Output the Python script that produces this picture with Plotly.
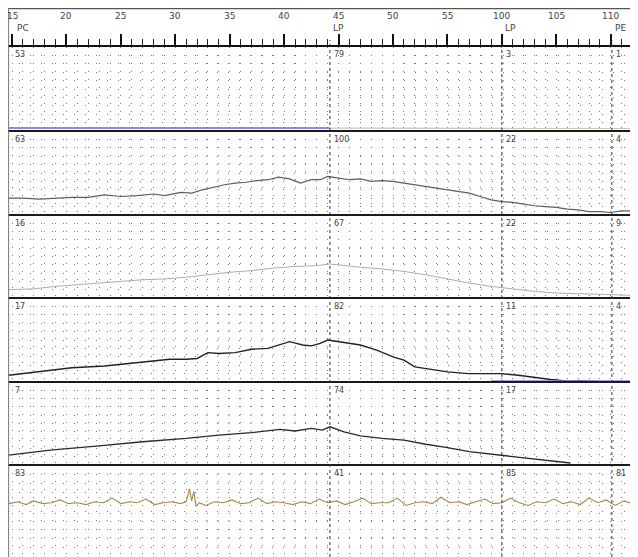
import plotly.graph_objects as go

# ---------------- data ----------------
tick_vals = [15, 20, 25, 30, 35, 40, 45, 50, 55, 60, 65, 70]
tick_text = ["15", "20", "25", "30", "35", "40", "45", "50", "55", "100", "105", "110"]

event_x = [15.2, 44.2, 60.0, 70.1]
event_text = ["PC", "LP", "LP", "PE"]

panel_labels = [
    ["53", "79", "3", "1"],
    ["63", "100", "22", "4"],
    ["16", "67", "22", "9"],
    ["17", "82", "11", "4"],
    ["7", "74", "17", ""],
    ["83", "41", "85", "81"],
]

p1a_x = [14.7, 44.2]
p1a_y = [0.35, 0.35]
p1b_x = [44.2, 72.5]
p1b_y = [0.35, 0.3]

p2_x = [14.7, 16.0, 17.5, 19.0, 20.5, 22.0, 23.5, 25.0, 26.5, 28.0, 29.0, 30.5, 31.5, 32.5,
        33.5, 34.5, 35.5, 36.5, 37.5, 38.5, 39.5, 40.5, 41.5, 42.5, 43.3, 44.0, 45.0, 46.0,
        47.0, 48.0, 49.0, 50.0, 51.0, 52.0, 53.0, 54.0, 55.0, 56.0, 57.0, 58.0, 59.0, 60.0,
        61.0, 62.0, 63.0, 64.0, 65.0, 66.0, 67.0, 68.0, 69.0, 70.0, 71.0, 72.5]
p2_y = [2.0, 2.0, 1.9, 2.0, 2.1, 2.1, 2.4, 2.2, 2.3, 2.5, 2.3, 2.7, 2.6, 3.0,
        3.3, 3.6, 3.8, 3.9, 4.1, 4.2, 4.5, 4.3, 3.8, 4.2, 4.2, 4.6, 4.4, 4.2,
        4.3, 4.0, 4.1, 4.0, 3.8, 3.6, 3.4, 3.2, 3.0, 2.8, 2.6, 2.2, 1.8, 1.6,
        1.5, 1.3, 1.1, 1.0, 0.9, 0.7, 0.6, 0.4, 0.4, 0.3, 0.5, 0.5]

p3_x = [14.7, 17, 19, 21, 23, 25, 27, 29, 31, 33, 35, 37, 39, 41, 43, 44.2, 45.5, 47, 49,
        51, 53, 55, 57, 59, 61, 63, 65, 67, 69, 72.5]
p3_y = [1.0, 1.1, 1.4, 1.6, 1.8, 2.0, 2.2, 2.3, 2.5, 2.8, 3.1, 3.3, 3.6, 3.8, 3.9, 4.1, 3.9,
        3.7, 3.5, 3.2, 2.8, 2.3, 1.8, 1.4, 1.1, 0.8, 0.6, 0.5, 0.4, 0.3]

p4_x = [14.7, 17.5, 20.5, 23.5, 26.5, 28, 29.5, 31, 32, 33, 34, 35.5, 37, 38.5, 39.6, 40.5,
        41.7, 42.5, 43.3, 44.0, 45.5, 47.0, 48.5, 50.0, 51.0, 52.0, 53.5, 55.0, 56.9, 58,
        59.9, 61.5, 63.1, 64.5, 66.1, 67.0, 69, 72.5]
p4_y = [0.8, 1.2, 1.7, 1.9, 2.3, 2.5, 2.7, 2.7, 2.8, 3.5, 3.4, 3.5, 3.9, 4.0, 4.4, 4.8,
        4.4, 4.3, 4.6, 5.0, 4.7, 4.4, 3.8, 3.0, 2.6, 1.8, 1.5, 1.2, 1.0, 1.0,
        1.0, 0.8, 0.5, 0.3, 0.1, 0.15, 0.05, 0.05]
p4b_x = [59.0, 72.5]
p4b_y = [0.12, 0.12]

p5_x = [14.7, 18.5, 23, 27, 31, 34, 37, 39.6, 41, 42.5, 43.5, 44.2, 45.5, 47, 49, 51, 53,
        55, 57, 59, 61, 63, 65, 66.3]
p5_y = [1.2, 1.8, 2.3, 2.8, 3.2, 3.6, 3.9, 4.3, 4.1, 4.4, 4.2, 4.6, 4.0, 3.5, 3.2, 3.0, 2.5,
        2.1, 1.6, 1.3, 1.0, 0.7, 0.45, 0.24]

p6_x = [14.7, 15.5, 16.3, 17.0, 17.8, 18.6, 19.4, 20.2, 21.0, 21.8, 22.6, 23.4, 24.2, 25.0,
        25.8, 26.5, 27.3, 28.1, 28.9, 29.7, 30.5, 31.0, 31.3, 31.5, 31.7, 31.9, 32.2, 32.8,
        33.6, 34.4, 35.2, 36.0, 36.8, 37.6, 38.4, 39.2, 40.0, 40.8, 41.6, 42.4, 43.2, 44.0,
        44.8, 45.6, 46.4, 47.2, 48.0, 48.8, 49.6, 50.4, 51.2, 52.0, 52.8, 53.6, 54.4, 55.2,
        56.0, 56.8, 57.6, 58.4, 59.2, 60.0, 60.8, 61.6, 62.4, 63.2, 64.0, 64.8, 65.6, 66.4,
        67.2, 68.0, 68.8, 69.6, 70.4, 71.2, 72.0, 72.5]
p6_y = [5.8, 6.0, 5.7, 6.1, 5.8, 5.9, 6.2, 5.8, 5.9, 5.7, 6.0, 5.9, 6.4, 5.8,
        6.0, 5.9, 6.3, 5.7, 5.9, 6.0, 5.8, 6.0, 7.4, 6.1, 7.1, 5.5, 5.9, 5.6,
        6.0, 5.9, 6.2, 5.8, 5.9, 6.4, 5.8, 6.0, 5.9, 5.7, 6.0, 5.8, 6.3, 5.9,
        6.1, 5.7, 6.0, 6.4, 5.8, 5.9, 5.9, 6.4, 5.6, 5.9, 6.0, 5.8, 6.5, 5.9,
        6.0, 5.7, 6.0, 6.3, 5.8, 5.9, 6.4, 5.9, 5.6, 6.0, 5.9, 6.3, 5.8, 6.0,
        5.7, 6.4, 5.9, 6.2, 5.6, 6.1, 5.8, 6.0]

# ---------------- layout geometry ----------------
# the page body adds an 8px offset, so the figure is drawn 8px smaller
OFF = 8
W, H = 638 - OFF, 557 - OFF
bounds_ref = [47, 131, 215, 298, 382, 465, 557]

def py(ref_px):
    return 1 - (ref_px - OFF) / H

X_RANGE = [14.63, 72.5]
GRID = "#7a7a7a"
FONT = "DejaVu Sans"

fig = go.Figure()

traces = [
    (1, p1a_x, p1a_y, "#6868c8", 1.6),
    (1, p1b_x, p1b_y, "#c4ccb8", 1.2),
    (2, p2_x, p2_y, "#6a5a52", 1.2),
    (3, p3_x, p3_y, "#a8b49c", 1.0),
    (4, p4_x, p4_y, "#222222", 1.4),
    (4, p4b_x, p4b_y, "#8080d8", 1.6),
    (5, p5_x, p5_y, "#2a2a2a", 1.3),
    (6, p6_x, p6_y, "#a88848", 1.1),
]
for row, xs, ys, col, w in traces:
    sfx = "" if row == 1 else str(row)
    fig.add_trace(go.Scatter(x=xs, y=ys, mode="lines", line=dict(color=col, width=w),
                             xaxis="x" + sfx, yaxis="y" + sfx, showlegend=False,
                             hoverinfo="skip"))

layout = dict(width=W, height=H, margin=dict(l=0, r=0, t=0, b=0),
              paper_bgcolor="white", plot_bgcolor="white", showlegend=False)

for i in range(6):
    sfx = "" if i == 0 else str(i + 1)
    top, bot = bounds_ref[i], bounds_ref[i + 1]
    xa = dict(range=X_RANGE, anchor="y" + sfx, showgrid=True, gridcolor=GRID,
              griddash="1px,7px", gridwidth=1, zeroline=False, showticklabels=False,
              tick0=15, dtick=1, ticks="", showline=False)
    if i == 0:
        xa.update(side="top", ticks="outside", ticklen=11, tickwidth=1.5,
                  tickcolor="#111", showline=True, linecolor="#111", linewidth=2,
                  tickvals=tick_vals,
                  minor=dict(dtick=1, tick0=15, ticks="outside", ticklen=6, tickwidth=1.2,
                             tickcolor="#222", showgrid=True, gridcolor=GRID,
                             griddash="1px,7px"))
        xa.pop("dtick")
        xa.pop("tick0")
    else:
        xa["matches"] = "x"
    layout["xaxis" + sfx] = xa
    layout["yaxis" + sfx] = dict(domain=[max(0, py(bot)), py(top)], range=[0, 10], dtick=1,
                                 showgrid=True, gridcolor=GRID, griddash="1px,10px",
                                 zeroline=False, showticklabels=False, anchor="x" + sfx,
                                 showline=False)

fig.update_layout(**layout)

shapes = []
for b in bounds_ref[1:-1]:
    shapes.append(dict(type="line", xref="paper", yref="paper", x0=0, x1=1,
                       y0=py(b), y1=py(b), line=dict(color="#1a1a1a", width=2)))
shapes.append(dict(type="line", xref="paper", yref="paper", x0=0, x1=1,
                   y0=0.999, y1=0.999, line=dict(color="#555", width=1.5)))
shapes.append(dict(type="line", xref="paper", yref="paper", x0=0.001, x1=0.001,
                   y0=0, y1=1, line=dict(color="#777", width=1)))
for ex in event_x[1:]:
    shapes.append(dict(type="line", xref="x", yref="paper", x0=ex, x1=ex,
                       y0=0, y1=py(40), line=dict(color="#333", width=1, dash="3px,3px")))
fig.update_layout(shapes=shapes)

ann = []
for tv, tt in zip(tick_vals, tick_text):
    ann.append(dict(x=tv, y=py(16), xref="x", yref="paper", text=tt, showarrow=False,
                    xanchor="center", yanchor="middle",
                    font=dict(family=FONT, size=9, color="#444")))
for ex, et in zip(event_x, event_text):
    ann.append(dict(x=ex + 0.1, y=py(28), xref="x", yref="paper", text=et, showarrow=False,
                    xanchor="left", yanchor="middle",
                    font=dict(family=FONT, size=9, color="#444")))
for i, labs in enumerate(panel_labels):
    top = bounds_ref[i]
    for ex, lab in zip([14.9] + event_x[1:], labs):
        if not lab:
            continue
        ann.append(dict(x=ex + 0.2, y=py(top + 8), xref="x", yref="paper", text=lab,
                        showarrow=False, xanchor="left", yanchor="middle",
                        font=dict(family=FONT, size=8, color="#444")))
fig.update_layout(annotations=ann)

fig.write_html("out.html")
